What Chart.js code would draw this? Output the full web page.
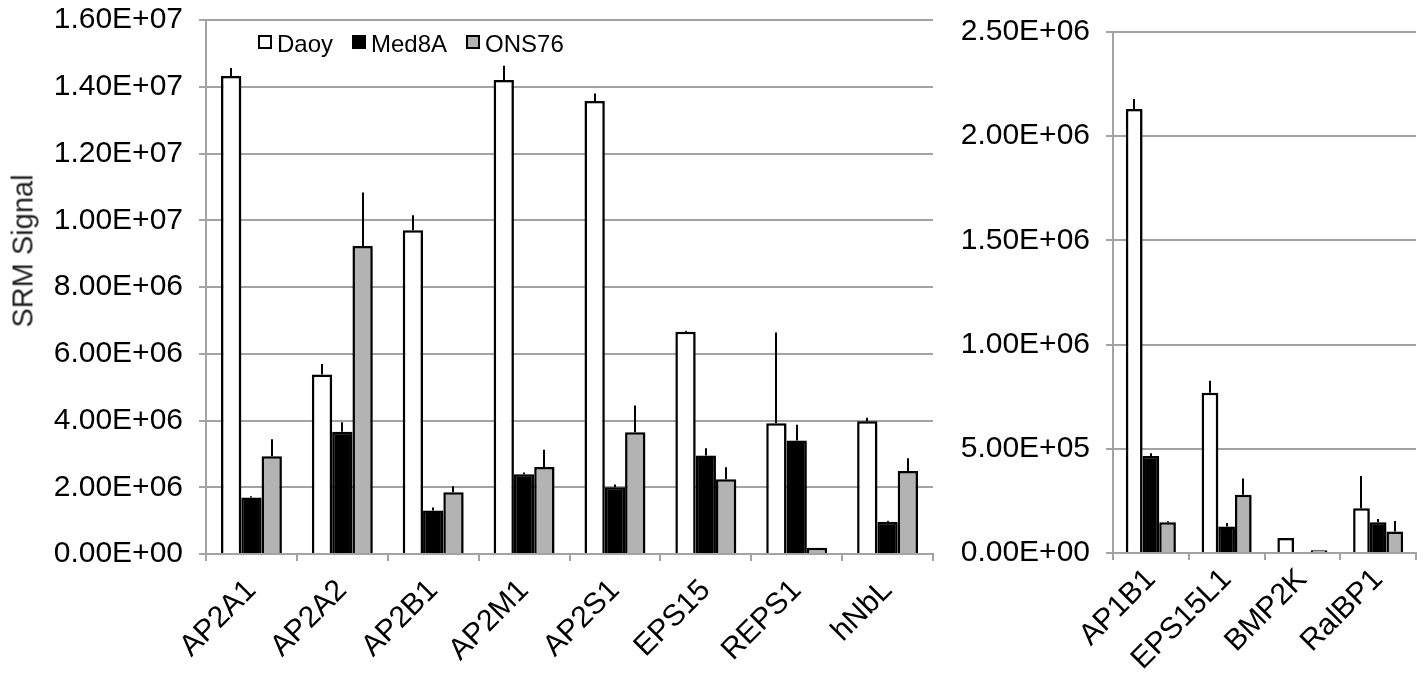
<!DOCTYPE html>
<html>
<head>
<meta charset="utf-8">
<script src="https://cdn.jsdelivr.net/npm/chart.js@4.4.1/dist/chart.umd.min.js"></script>
<style>
  html, body { margin: 0; padding: 0; background: #fff; }
  #wrap { position: relative; width: 1425px; height: 673px; overflow: hidden; }
  #leftChart { position: absolute; left: 0; top: 0; }
  #rightChart { position: absolute; left: 945px; top: 0; }
  #legend {
    position: absolute; left: 258px; top: 30px;
    display: flex; gap: 19px;
    font: 24px "Liberation Sans", Arial, Helvetica, sans-serif; color: #000;
  }
  #legend .item { display: flex; align-items: center; }
  #legend .box { width: 10px; height: 10px; border: 2px solid #000; margin-right: 5px; margin-top: -4px; }
  #ytitle {
    position: absolute; left: 23px; top: 251px;
    transform: translate(-50%, -50%) rotate(-90deg);
    white-space: nowrap;
    font: 29px "Liberation Sans", Arial, Helvetica, sans-serif; color: #222;
  }
</style>
</head>
<body>
<div id="wrap">
  <canvas id="leftChart" width="945" height="673"></canvas>
  <canvas id="rightChart" width="480" height="673"></canvas>
  <div id="legend"></div>
  <div id="ytitle">SRM Signal</div>
</div>
<script>
/* ---------- data ---------- */
const seriesNames = ["Daoy", "Med8A", "ONS76"];
const seriesColors = ["#ffffff", "#000000", "#b3b3b3"];

// left panel
const leftLabels = ["AP2A1", "AP2A2", "AP2B1", "AP2M1", "AP2S1", "EPS15", "REPS1", "hNbL"];
const daoyLeft   = [14.32e6, 5.38e6, 9.70e6, 14.20e6, 13.57e6, 6.66e6, 3.92e6, 3.98e6];
const med8aLeft  = [1.69e6, 3.66e6, 1.30e6, 2.39e6, 2.00e6, 2.95e6, 3.40e6, 0.97e6];
const ons76Left  = [2.93e6, 9.23e6, 1.85e6, 2.61e6, 3.65e6, 2.24e6, 0.19e6, 2.49e6];
const daoyErrLeft  = [0.24e6, 0.31e6, 0.45e6, 0.43e6, 0.23e6, 0.03e6, 2.72e6, 0.10e6];
const med8aErrLeft = [0.04e6, 0.29e6, 0.09e6, 0.05e6, 0.08e6, 0.22e6, 0.47e6, 0.03e6];
const ons76ErrLeft = [0.51e6, 1.60e6, 0.18e6, 0.51e6, 0.80e6, 0.36e6, 0.00e6, 0.38e6];
const leftTicks = [0, 2e6, 4e6, 6e6, 8e6, 10e6, 12e6, 14e6, 16e6];

// right panel
const rightLabels = ["AP1B1", "EPS15L1", "BMP2K", "RalBP1"];
const daoyRight   = [2.131e6, 0.769e6, 0.072e6, 0.215e6];
const med8aRight  = [0.466e6, 0.127e6, 0.005e6, 0.148e6];
const ons76Right  = [0.147e6, 0.279e6, 0.013e6, 0.103e6];
const daoyErrRight  = [0.048e6, 0.058e6, 0.000e6, 0.154e6];
const med8aErrRight = [0.013e6, 0.017e6, 0.000e6, 0.015e6];
const ons76ErrRight = [0.005e6, 0.078e6, 0.000e6, 0.050e6];
const rightTicks = [0, 0.5e6, 1.0e6, 1.5e6, 2.0e6, 2.5e6];

/* ---------- helpers ---------- */
const FONT = "'Liberation Sans', Arial, Helvetica, sans-serif";
const GRID = "#a3a3a3";

function sci(v) {
  if (v === 0) return "0.00E+00";
  const parts = Number(v).toExponential(2).split("e");
  const exp = parseInt(parts[1], 10);
  const sign = exp < 0 ? "-" : "+";
  return parts[0] + "E" + sign + String(Math.abs(exp)).padStart(2, "0");
}

// soft Excel-style shadow behind the bars
const barShadow = {
  id: "barShadow",
  beforeDatasetsDraw(chart) {
    const c = chart.ctx;
    c.save();
    c.shadowColor = "rgba(0,0,0,0.28)";
    c.shadowBlur = 4;
    c.shadowOffsetX = 2;
    c.shadowOffsetY = 1;
  },
  afterDatasetsDraw(chart) {
    chart.ctx.restore();
  }
};

// upper error bars, drawn from the bar top to value + error
const errorBars = {
  id: "errorBars",
  afterDatasetsDraw(chart) {
    const c = chart.ctx;
    const yScale = chart.scales.y;
    c.save();
    c.strokeStyle = "#000";
    c.lineWidth = 2;
    chart.data.datasets.forEach((ds, i) => {
      const meta = chart.getDatasetMeta(i);
      meta.data.forEach((bar, j) => {
        const err = ds.errors[j];
        if (!err) return;
        const yTop = yScale.getPixelForValue(ds.data[j] + err);
        c.beginPath();
        c.moveTo(Math.round(bar.x), bar.y);
        c.lineTo(Math.round(bar.x), yTop);
        c.stroke();
      });
    });
    c.restore();
  }
};

function makeChart(canvas, labels, values, errors, ticks, opts) {
  const datasets = seriesNames.map((name, i) => ({
    label: name,
    data: values[i],
    errors: errors[i],
    backgroundColor: seriesColors[i],
    borderColor: "#000",
    borderWidth: 2.5,
    categoryPercentage: opts.catPct,
    barPercentage: 1.0
  }));

  return new Chart(canvas, {
    type: "bar",
    data: { labels, datasets },
    plugins: [barShadow, errorBars],
    options: {
      responsive: false,
      animation: false,
      layout: { padding: opts.padding },
      plugins: {
        legend: { display: false },
        tooltip: { enabled: false }
      },
      scales: {
        x: {
          grid: {
            display: true,
            drawOnChartArea: false,
            drawTicks: true,
            tickLength: 7,
            color: GRID,
            lineWidth: 2,
            offset: true
          },
          border: { color: GRID, width: 2 },
          ticks: {
            font: { family: FONT, size: 30 },
            color: "#000",
            minRotation: 45,
            maxRotation: 45,
            autoSkip: false,
            padding: opts.xPad
          },
          afterFit(s) { s.height = opts.xHeight; }
        },
        y: {
          min: ticks[0],
          max: ticks[ticks.length - 1],
          afterBuildTicks(s) { s.ticks = ticks.map(v => ({ value: v })); },
          ticks: {
            font: { family: FONT, size: 30 },
            color: "#000",
            padding: 16,
            callback: v => sci(v)
          },
          grid: { color: GRID, lineWidth: 2, tickLength: 7 },
          border: { color: GRID, width: 2 },
          afterFit(s) {
            s.width = opts.yWidth;
            s.paddingTop = 0;
            s.paddingBottom = 0;
          }
        }
      }
    }
  });
}

makeChart(
  document.getElementById("leftChart"),
  leftLabels,
  [daoyLeft, med8aLeft, ons76Left],
  [daoyErrLeft, med8aErrLeft, ons76ErrLeft],
  leftTicks,
  { catPct: 0.67, padding: { top: 20, right: 12, left: 0, bottom: 0 }, xHeight: 119, yWidth: 206, xPad: 12 }
);

makeChart(
  document.getElementById("rightChart"),
  rightLabels,
  [daoyRight, med8aRight, ons76Right],
  [daoyErrRight, med8aErrRight, ons76ErrRight],
  rightTicks,
  { catPct: 0.66, padding: { top: 32, right: 9, left: 0, bottom: 0 }, xHeight: 120, yWidth: 168, xPad: 2 }
);

/* ---------- legend ---------- */
const legend = document.getElementById("legend");
seriesNames.forEach((name, i) => {
  const item = document.createElement("div");
  item.className = "item";
  const box = document.createElement("span");
  box.className = "box";
  box.style.background = seriesColors[i];
  const txt = document.createElement("span");
  txt.textContent = name;
  item.appendChild(box);
  item.appendChild(txt);
  legend.appendChild(item);
});
</script>
</body>
</html>
